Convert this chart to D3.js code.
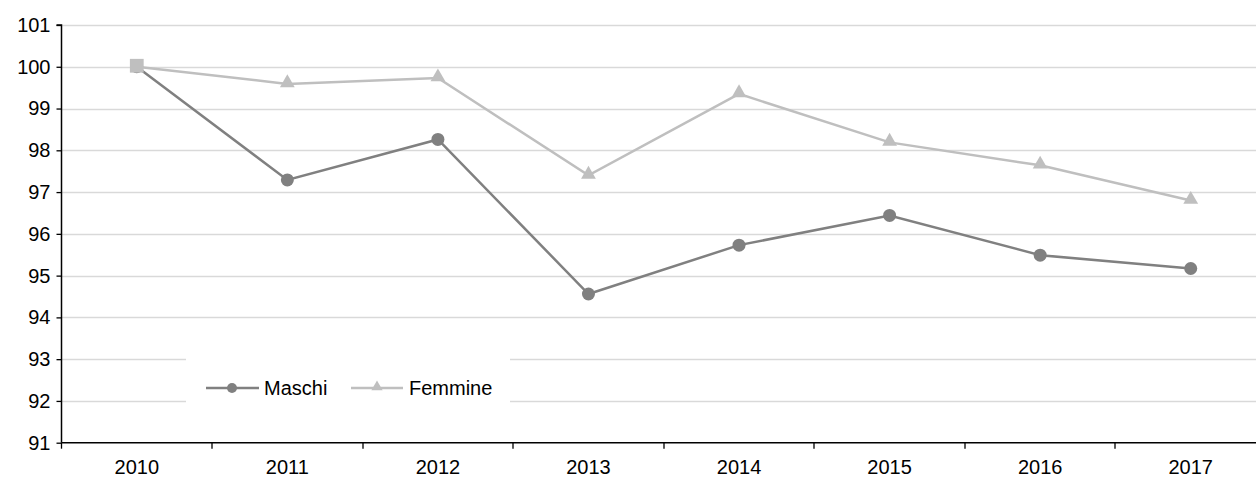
<!DOCTYPE html>
<html><head><meta charset="utf-8">
<script src="https://cdn.jsdelivr.net/npm/d3@7"></script>
<style>html,body{margin:0;padding:0;background:#fff;overflow:hidden}</style>
</head><body>
<svg id="c" width="1256" height="477"></svg>
<script>
const years = ["2010","2011","2012","2013","2014","2015","2016","2017"];
const maschi = [100, 97.29, 98.26, 94.56, 95.73, 96.44, 95.49, 95.17];
const femmine = [100, 99.59, 99.73, 97.40, 99.35, 98.19, 97.64, 96.80];
const yTicks = [91,92,93,94,95,96,97,98,99,100,101];
const seriesNames = ["Maschi","Femmine"];

const svg = d3.select("#c");
const font = "'Liberation Sans', Arial, sans-serif";
const fs = 20;
const x = d3.scaleBand().domain(years).range([61.5, 1266]);
const y = d3.scaleLinear().domain([91, 101]).range([442.7, 25]);
const cx = d => x(d) + x.bandwidth()/2;

// gridlines
svg.append("g").selectAll("line").data(yTicks.filter(t=>t>91)).join("line")
  .attr("x1", 62).attr("x2", 1256)
  .attr("y1", d=>Math.round(y(d))+0.5).attr("y2", d=>Math.round(y(d))+0.5)
  .attr("stroke", "#d9d9d9").attr("stroke-width", 1.3);

// legend box (covers gridlines)
svg.append("rect").attr("x", 186).attr("y", 355).attr("width", 324).attr("height", 50).attr("fill", "#fff");

// y axis
const ya = svg.append("g").attr("transform", "translate(61.5,0)")
  .call(d3.axisLeft(y).tickValues(yTicks).tickSize(5).tickPadding(6).tickFormat(d3.format("d")));
ya.select(".domain").attr("stroke", "#000").attr("stroke-width", 1.5).attr("d", `M-5,${y(101)}H0V${y(91)}`);
ya.selectAll(".tick line").attr("stroke", "#000").attr("stroke-width", 1.3);
ya.selectAll("text").attr("font-family", font).attr("font-size", fs).attr("fill", "#000");

// x axis
const xa = svg.append("g").attr("transform", `translate(0,${y(91)})`);
xa.append("line").attr("x1", 61.5).attr("x2", 1256).attr("y1", 0).attr("y2", 0).attr("stroke", "#000").attr("stroke-width", 1.5);
xa.selectAll("line.t").data(years.slice(1)).join("line").attr("class","t")
  .attr("x1", d=>Math.round(x(d))).attr("x2", d=>Math.round(x(d))).attr("y1", 0).attr("y2", 6)
  .attr("stroke", "#000").attr("stroke-width", 1.3);
xa.append("line").attr("x1", 61.5).attr("x2", 61.5).attr("y1", 0).attr("y2", 6).attr("stroke", "#000").attr("stroke-width", 1.3);
xa.selectAll("text").data(years).join("text")
  .attr("x", d=>cx(d)).attr("y", 31.5).attr("text-anchor", "middle")
  .attr("font-family", font).attr("font-size", fs).attr("fill", "#000").text(d=>d);

const line = d3.line().x((d,i)=>cx(years[i])).y(d=>y(d));
const cM = "#808080", cF = "#bfbfbf";

// Maschi
svg.append("path").datum(maschi).attr("d", line).attr("fill","none").attr("stroke", cM).attr("stroke-width", 2.5);
svg.append("g").selectAll("circle").data(maschi).join("circle")
  .attr("cx", (d,i)=>cx(years[i])).attr("cy", d=>y(d)).attr("r", 6.5).attr("fill", cM);

// Femmine
svg.append("path").datum(femmine).attr("d", line).attr("fill","none").attr("stroke", cF).attr("stroke-width", 2.5);
const tri = d3.symbol().type(d3.symbolTriangle).size(95);
const sq = d3.symbol().type(d3.symbolSquare).size(190);
svg.append("g").selectAll("path").data(femmine).join("path")
  .attr("transform", (d,i)=>`translate(${cx(years[i])},${y(d)-1})`)
  .attr("d", (d,i)=> i===0 ? sq() : tri()).attr("fill", cF);

// legend
const lg = svg.append("g");
lg.append("line").attr("x1",206).attr("x2",259).attr("y1",388).attr("y2",388).attr("stroke",cM).attr("stroke-width",2.5);
lg.append("circle").attr("cx",232).attr("cy",388).attr("r",5).attr("fill",cM);
lg.append("text").attr("x",264).attr("y",395).attr("font-family",font).attr("font-size",fs).text(seriesNames[0]);
lg.append("line").attr("x1",351).attr("x2",403).attr("y1",388).attr("y2",388).attr("stroke",cF).attr("stroke-width",2.5);
lg.append("path").attr("transform","translate(377,387)").attr("d", d3.symbol().type(d3.symbolTriangle).size(55)()).attr("fill",cF);
lg.append("text").attr("x",409).attr("y",395).attr("font-family",font).attr("font-size",fs).text(seriesNames[1]);
</script>
</body></html>
